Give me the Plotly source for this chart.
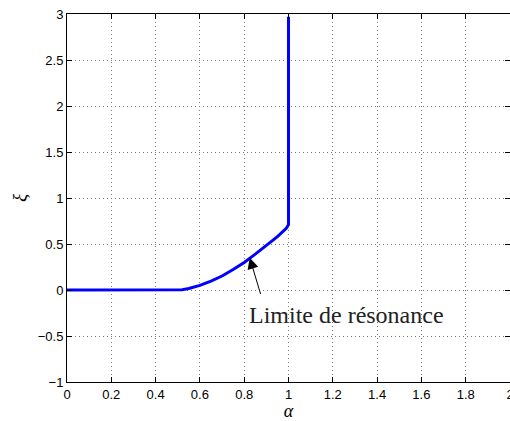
import plotly.graph_objects as go

alpha = [0.0, 0.5, 0.52, 0.55, 0.6, 0.65, 0.7, 0.75, 0.8, 0.85, 0.9, 0.95, 0.99, 1.0, 1.0]
xi = [0.0, 0.0, 0.004, 0.016, 0.05, 0.097, 0.152, 0.222, 0.3, 0.39, 0.48, 0.58, 0.67, 0.71, 2.97]

x_ticks = [0, 0.2, 0.4, 0.6, 0.8, 1, 1.2, 1.4, 1.6, 1.8, 2]
y_ticks = [-1, -0.5, 0, 0.5, 1, 1.5, 2, 2.5, 3]
annot_text = "Limite de résonance"

fig = go.Figure()
fig.add_trace(go.Scatter(x=alpha, y=xi, mode="lines",
                         line=dict(color="#0000FF", width=3), showlegend=False))

axis_common = dict(
    showline=True, linecolor="black", linewidth=1, mirror="allticks",
    ticks="inside", ticklen=5, tickcolor="black", tickwidth=1,
    showgrid=True, gridcolor="#777777", griddash="1px,3px", gridwidth=1,
    zeroline=False, tickfont=dict(family="Liberation Sans, Arial", size=13, color="black"),
    ticklabeloverflow="allow", automargin=False,
)

fig.update_xaxes(range=[0, 2], tickvals=x_ticks, ticktext=[f"{v:g}" for v in x_ticks],
                 title=dict(text="<i>α</i>", font=dict(family="Liberation Serif", size=18, color="black"),
                            standoff=4),
                 **axis_common)
fig.update_yaxes(range=[-1, 3], tickvals=y_ticks,
                 ticktext=[f"{v:g}".replace("-", "\u2212") for v in y_ticks],
                 title=dict(text="<i>ξ</i>", font=dict(family="Liberation Serif", size=19, color="black"),
                            standoff=6),
                 **axis_common)

fig.add_annotation(x=0.825, y=0.35, ax=0.876, ay=-0.06, axref="x", ayref="y",
                   xref="x", yref="y", text="", showarrow=True,
                   arrowhead=2, arrowsize=2.2, arrowwidth=1, arrowcolor="black")
fig.add_annotation(x=0.813, y=-0.27, xref="x", yref="y", text=annot_text,
                   showarrow=False, xanchor="left", yanchor="middle",
                   font=dict(family="Liberation Serif", size=24, color="#222222"))

fig.update_layout(width=510, height=421, margin=dict(l=67, r=0, t=14, b=39),
                  paper_bgcolor="white", plot_bgcolor="white")

fig.write_html("out.html")
